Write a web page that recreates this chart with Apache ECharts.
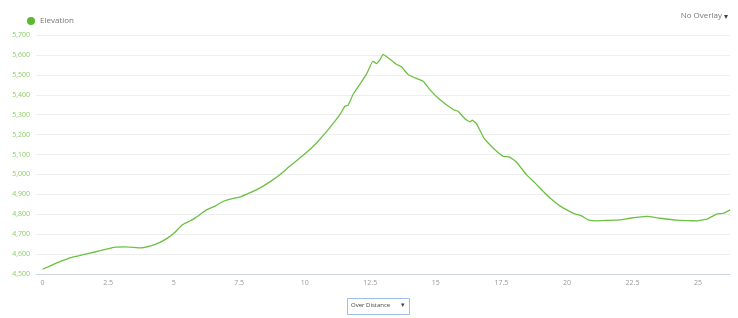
<!DOCTYPE html>
<html>
<head>
<meta charset="utf-8">
<script src="https://cdn.jsdelivr.net/npm/echarts@6/dist/echarts.min.js"></script>
<style>
html,body{margin:0;padding:0;background:#fff;}
#c{width:738px;height:318px;}
</style>
</head>
<body>
<div id="c"></div>
<script>
// Distance (km) and elevation (m)
var distance = [0, 0.5, 1.07, 1.4, 1.77, 2.2, 2.72, 3.17, 3.74, 4.12, 4.5, 4.82, 5.05, 5.33, 5.6, 5.84, 6.25, 6.6, 6.88, 7.2, 7.58, 7.9, 8.28, 8.7, 9.05, 9.4, 9.81, 10.15, 10.45, 10.95, 11.34, 11.53, 11.65, 11.84, 12.1, 12.35, 12.6, 12.73, 12.86, 12.99, 13.18, 13.5, 13.69, 13.94, 14.26, 14.52, 14.77, 15.15, 15.66, 15.85, 16.11, 16.3, 16.39, 16.55, 16.83, 17.06, 17.32, 17.57, 17.82, 18.08, 18.46, 18.8, 19.1, 19.4, 19.73, 20.05, 20.3, 20.56, 20.81, 21.13, 21.5, 22.02, 22.4, 23.04, 23.55, 24.19, 24.6, 24.95, 25.33, 25.71, 25.97, 26.22];
var elevation = [4524, 4553, 4582, 4592, 4604, 4617, 4634, 4636, 4631, 4641, 4660, 4685, 4710, 4747, 4765, 4783, 4822, 4842, 4864, 4877, 4889, 4907, 4931, 4965, 4998, 5038, 5082, 5120, 5158, 5234, 5300, 5342, 5346, 5401, 5452, 5502, 5569, 5557, 5574, 5603, 5586, 5552, 5541, 5502, 5482, 5468, 5426, 5376, 5326, 5317, 5279, 5264, 5272, 5255, 5183, 5149, 5116, 5091, 5087, 5061, 4998, 4955, 4914, 4876, 4842, 4818, 4802, 4792, 4772, 4767, 4769, 4772, 4780, 4789, 4780, 4770, 4768, 4767, 4775, 4801, 4805, 4822];
var yTicks = [4500, 5700, 100];
var xLabelStep = 2.5;

var pts = distance.map(function(d, i){ return [d, elevation[i]]; });

var chart = echarts.init(document.getElementById('c'), null, {renderer: 'canvas'});
var font = '"Open Sans", "DejaVu Sans", sans-serif';
chart.setOption({
  animation: false,
  backgroundColor: '#fff',
  grid: {left: 36, right: 8, top: 35, bottom: 44, containLabel: false},
  legend: {
    left: 22, top: 12, icon: 'circle', itemWidth: 8, itemHeight: 8, itemGap: 4,
    textStyle: {color: '#777', fontSize: 8, fontFamily: font},
    data: ['Elevation']
  },
  xAxis: {
    type: 'value', min: -0.25, max: 26.22, interval: 0.25,
    axisLine: {show: true, lineStyle: {color: '#ccd6eb', width: 1}},
    axisTick: {show: false},
    splitLine: {show: false},
    axisLabel: {
      interval: 0, hideOverlap: false, showMinLabel: true, showMaxLabel: true,
      color: '#999', fontSize: 7, fontFamily: font, margin: 5,
      formatter: function(v){
        var r = v / xLabelStep;
        if (Math.abs(r - Math.round(r)) > 1e-6 || v < -1e-6) return '';
        var n = Math.round(r) * xLabelStep;
        return String(n);
      }
    }
  },
  yAxis: {
    type: 'value', min: yTicks[0], max: yTicks[1], interval: yTicks[2],
    axisLine: {show: false}, axisTick: {show: false},
    splitLine: {show: true, lineStyle: {color: '#eeeeee', width: 1}},
    axisLabel: {
      color: '#8ccb66', fontSize: 7, fontFamily: font, margin: 6,
      formatter: function(v){ return v.toLocaleString('en-US'); }
    }
  },
  series: [{
    name: 'Elevation', type: 'line', data: pts, showSymbol: false, symbol: 'none',
    smooth: 0.1,
    lineStyle: {color: '#6cc043', width: 1.3},
    itemStyle: {color: '#5cb82e'}
  }],
  graphic: [
    {type: 'text', right: 16, top: 12, style: {text: 'No Overlay', fill: '#777', font: '8px ' + font}},
    {type: 'text', right: 10, top: 13, style: {text: '▾', fill: '#444', font: '8px ' + font}},
    {type: 'rect', left: 347, top: 298, shape: {width: 62, height: 16}, style: {fill: '#fff', stroke: '#9fbfe8', lineWidth: 1}},
    {type: 'text', left: 351, top: 302, style: {text: 'Over Distance', fill: '#444', font: '6px ' + font}},
    {type: 'text', left: 401, top: 301, style: {text: '▾', fill: '#444', font: '7px ' + font}}
  ]
});
</script>
</body>
</html>
